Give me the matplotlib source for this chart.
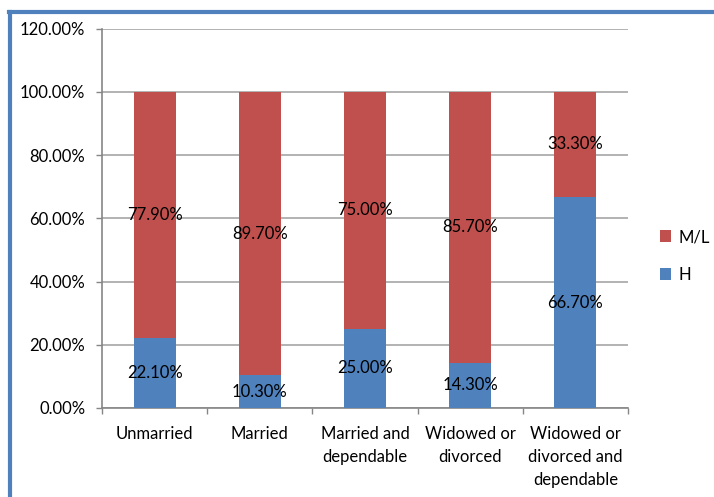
import matplotlib
matplotlib.use("Agg")
import matplotlib.pyplot as plt
from matplotlib.lines import Line2D
from matplotlib.ticker import FuncFormatter, FixedLocator
import numpy as np

plt.rcParams['font.family'] = ['Lato', 'DejaVu Sans']

categories = ["Unmarried", "Married", "Married and\ndependable",
              "Widowed or\ndivorced", "Widowed or\ndivorced and\ndependable"]
h_values = [22.10, 10.30, 25.00, 14.30, 66.70]
ml_values = [77.90, 89.70, 75.00, 85.70, 33.30]
series_names = ["H", "M/L"]

blue = "#4F81BD"
red = "#C0504D"
grid_gray = "#A6A6A6"
axis_gray = "#868686"

fig = plt.figure(figsize=(7.14, 4.97), dpi=100)
ax = fig.add_axes([0.1429, 0.1791, 0.8796 - 0.1429, 0.9426 - 0.1791])

x = np.arange(len(categories))
width = 0.4
bh = ax.bar(x, h_values, width, color=blue, label=series_names[0], zorder=3)
bm = ax.bar(x, ml_values, width, bottom=h_values, color=red,
            label=series_names[1], zorder=3)

fs = 12
for rect, v in zip(bh, h_values):
    ax.text(rect.get_x() + rect.get_width() / 2, rect.get_y() + rect.get_height() / 2,
            f"{v:.2f}%", ha="center", va="center", fontsize=fs, color="black", zorder=4)
for rect, v in zip(bm, ml_values):
    ax.text(rect.get_x() + rect.get_width() / 2, rect.get_y() + rect.get_height() / 2,
            f"{v:.2f}%", ha="center", va="center", fontsize=fs, color="black", zorder=4)

ax.set_xlim(-0.5, len(categories) - 0.5)
ax.set_ylim(0, 120)
ax.yaxis.set_major_locator(FixedLocator(np.arange(0, 121, 20)))
ax.yaxis.set_major_formatter(FuncFormatter(lambda v, p: f"{v:.2f}%"))
ax.yaxis.grid(True, color=grid_gray, linewidth=1.2, zorder=0)

ax.set_xticks(x)
ax.set_xticklabels(categories, fontsize=fs, linespacing=1.55)
ax.set_xticks(np.arange(-0.5, len(categories)), minor=True)
ax.tick_params(axis="x", which="major", length=0, pad=13)
ax.tick_params(axis="x", which="minor", length=4, color=axis_gray, width=1)
ax.tick_params(axis="y", length=4, color=axis_gray, width=1, pad=8, labelsize=fs)

for s in ["top", "right"]:
    ax.spines[s].set_visible(False)
for s in ["left", "bottom"]:
    ax.spines[s].set_color(axis_gray)
    ax.spines[s].set_linewidth(1.2)

handles = [bm, bh]
leg = fig.legend(handles, ["M/L", "H"], loc="center left",
                 bbox_to_anchor=(0.903, 0.485), frameon=False, fontsize=fs,
                 handlelength=0.7, handleheight=0.7, handletextpad=0.4,
                 labelspacing=1.3)

# outer frame
border = "#4F81BD"
fig.add_artist(Line2D([0.014, 0.014], [0.0, 0.976], color=border, linewidth=3,
                      transform=fig.transFigure))
fig.add_artist(Line2D([0.012, 1.0], [0.976, 0.976], color=border, linewidth=3,
                      transform=fig.transFigure))

fig.savefig("out.png", dpi=100)
